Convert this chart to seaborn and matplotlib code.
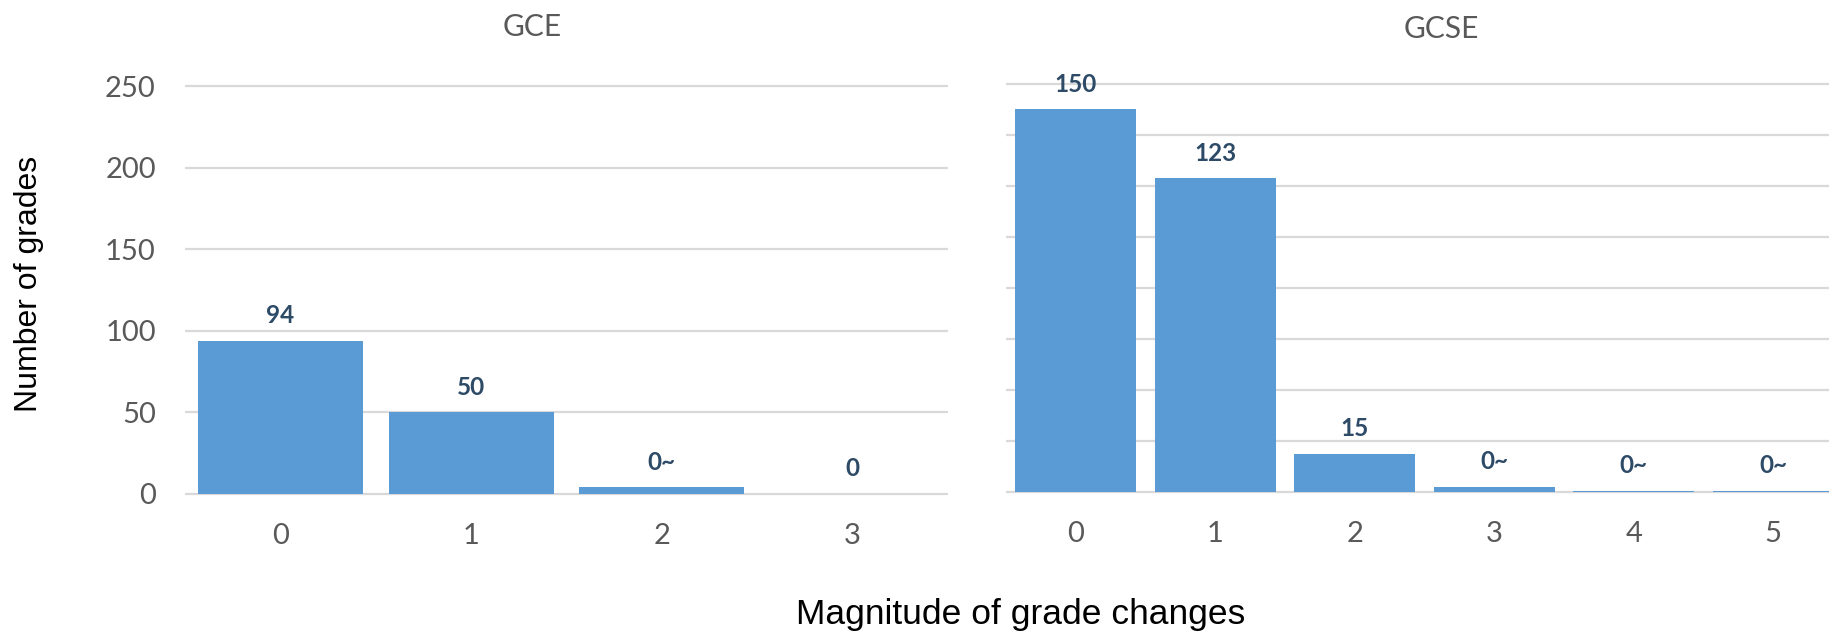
import matplotlib
matplotlib.use("Agg")
import matplotlib.pyplot as plt
import seaborn as sns
import pandas as pd

# Grade-change magnitudes and counts per qualification
gce_magnitude = ["0", "1", "2", "3"]
gce_counts = [94, 50, 4, 0]
gce_labels = ["94", "50", "0~", "0"]

gcse_magnitude = ["0", "1", "2", "3", "4", "5"]
gcse_counts = [150, 123, 15, 2, 0.4, 0.4]
gcse_labels = ["150", "123", "15", "0~", "0~", "0~"]

gce_yticks = [0, 50, 100, 150, 200, 250]
gcse_yticks = [0, 20, 40, 60, 80, 100, 120, 140, 160]

BAR_COLOR = "#5B9BD5"
LABEL_COLOR = "#2D4A66"
GRID_COLOR = "#D9D9D9"
TICK_COLOR = "#595959"

sns.set_theme(style="white")
plt.rcParams["font.family"] = ["Lato", "DejaVu Sans"]

W, H = 1829, 631
fig = plt.figure(figsize=(W / 100, H / 100), dpi=100)


def px_axes(x0, x1, ytop, ybot):
    return fig.add_axes([x0 / W, 1 - ybot / H, (x1 - x0) / W, (ybot - ytop) / H])


def draw_panel(ax, cats, counts, labels, yticks, ylim, show_yticklabels):
    df = pd.DataFrame({"magnitude": cats, "count": counts})
    sns.barplot(data=df, x="magnitude", y="count", order=cats, color=BAR_COLOR,
                width=0.865, saturation=1, ax=ax, zorder=3)
    for patch in ax.patches:
        patch.set_edgecolor("none")
    ax.set_xlim(-0.5, len(cats) - 0.5)
    ax.set_ylim(*ylim)
    ax.set_yticks(yticks)
    ax.yaxis.grid(True, color=GRID_COLOR, linewidth=1.6, zorder=0)
    ax.set_axisbelow(True)
    for s in ax.spines.values():
        s.set_visible(False)
    ax.tick_params(axis="both", length=0, labelsize=21, labelcolor=TICK_COLOR)
    ax.tick_params(axis="y", pad=21)
    ax.tick_params(axis="x", pad=20)
    if not show_yticklabels:
        ax.set_yticklabels([])
    ax.set_xlabel("")
    ax.set_ylabel("")
    for i, (v, lab) in enumerate(zip(counts, labels)):
        ax.annotate(lab, xy=(i, v), xytext=(0, 18), textcoords="offset points",
                    ha="center", va="center", fontsize=17.5, fontweight="bold",
                    color=LABEL_COLOR, zorder=4)


# Left panel: GCE (0-250 scale)
ax1 = px_axes(185, 948, 69.7, 495.6)
draw_panel(ax1, gce_magnitude, gce_counts, gce_labels, gce_yticks, (-1, 260), True)

# Right panel: GCSE (own 0-160 scale, no tick labels)
ax2 = px_axes(1006, 1843, 68.7, 493.5)
draw_panel(ax2, gcse_magnitude, gcse_counts, gcse_labels, gcse_yticks, (-0.6, 166), False)

fig.text(532 / W, 1 - 27 / H, "GCE", ha="center", va="center",
         fontsize=21.5, color=TICK_COLOR)
fig.text(1441 / W, 1 - 29 / H, "GCSE", ha="center", va="center",
         fontsize=21.5, color=TICK_COLOR)

fig.text(1021 / W, 1 - 624 / H, "Magnitude of grade changes", ha="center",
         va="baseline", fontsize=25.5, color="black", family=["Liberation Sans", "DejaVu Sans"])
fig.text(29 / W, 1 - 283.5 / H, "Number of grades", ha="center", va="center",
         rotation=90, fontsize=23, color="black", family=["Liberation Sans", "DejaVu Sans"])

fig.savefig("out.png", dpi=100, facecolor="white")
